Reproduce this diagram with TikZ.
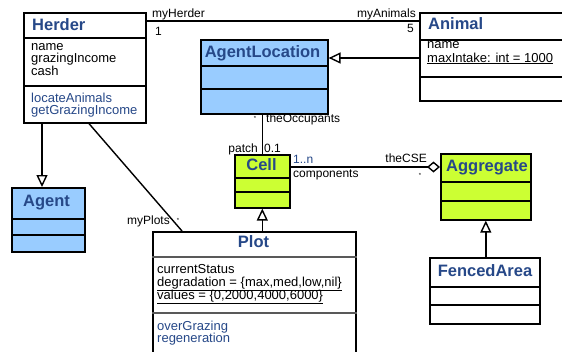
\documentclass[tikz,border=0pt]{standalone}
\usepackage{fontspec}
\setmainfont{Liberation Sans}
\usetikzlibrary{arrows.meta}

\definecolor{umltitle}{RGB}{38,72,136}
\definecolor{umlblue}{RGB}{153,204,255}
\definecolor{umllime}{RGB}{204,255,51}

% horizontal compartment line, #3 pt below the top of class box #2
\newcommand\umlsplit[3][black]{%
  \draw[sep, draw=#1] ([yshift=-#3pt]#2.north west) -- ([yshift=-#3pt]#2.north east);}

\tikzset{
  classbox/.style={draw=black, line width=1.6pt, rectangle, inner sep=0pt, anchor=north west},
  sep/.style={line width=1.6pt},
  ttl/.style={font=\fontsize{16.5}{16.5}\selectfont\bfseries, text=umltitle, inner sep=0pt},
  body/.style={font=\fontsize{13}{13}\selectfont, inner sep=0pt, anchor=base west},
  meth/.style={body, text=umltitle},
  lbl/.style={font=\fontsize{12}{12}\selectfont, inner sep=0pt},
  tick/.style={font=\fontsize{6}{6}\selectfont, inner sep=0pt},
  link/.style={line width=1.4pt},
  isa/.style={link, -{Triangle[open, length=12pt, width=11pt, fill=white]}},
  whole/.style={link, -{Diamond[open, length=13pt, width=11pt, fill=white]}},
}

\begin{document}
\begin{tikzpicture}[x=1pt, y=-1pt]
\useasboundingbox (0,0) rectangle (562,351);
\fill[white] (0,0) rectangle (562,351);
\clip (0,0) rectangle (562,351);

% ---------- classes ----------
\node[classbox, minimum width=122pt, minimum height=110pt] (herder) at (23,12) {};
\umlsplit{herder}{26}
\umlsplit{herder}{74}
\node[ttl, anchor=base west] (herderT) at (32,30) {Herder};
\node[body] (herderA1) at (31,50) {name};
\node[body] (herderA2) at (31,62.5) {grazingIncome};
\node[body] (herderA3) at (31,75) {cash};
\node[meth] (herderM1) at (31,102) {locateAnimals};
\node[meth] (herderM2) at (31,114) {getGrazingIncome};

\node[classbox, minimum width=200pt, minimum height=88pt] (animal) at (419,12) {};
\umlsplit{animal}{28}
\umlsplit{animal}{65}
\node[ttl, anchor=base west] (animalT) at (428,29) {Animal};
\node[body] (animalA1) at (427,48) {name};
\node[body] (animalA2) at (427,62) {\underline{maxIntake: int = 1000}};

\node[classbox, fill=umlblue, minimum width=127pt, minimum height=74pt] (agentloc) at (200,39) {};
\umlsplit{agentloc}{27}
\umlsplit{agentloc}{50}
\node[ttl, anchor=base] (agentlocT) at (262.5,57) {AgentLocation};

\node[classbox, fill=umlblue, minimum width=73pt, minimum height=64pt] (agent) at (11,187) {};
\umlsplit{agent}{32}
\umlsplit{agent}{48}
\node[ttl, anchor=base] (agentT) at (46.5,206) {Agent};

\node[classbox, fill=umllime, minimum width=55pt, minimum height=53pt] (cell) at (234,154) {};
\umlsplit{cell}{24}
\umlsplit{cell}{38}
\node[ttl, anchor=base] (cellT) at (261.5,170) {Cell};

\node[classbox, fill=umllime, minimum width=90pt, minimum height=66pt] (aggregate) at (440,153) {};
\umlsplit{aggregate}{29}
\umlsplit{aggregate}{48}
\node[ttl, anchor=base] (aggregateT) at (487,171) {Aggregate};

\node[classbox, minimum width=110pt, minimum height=66pt] (fenced) at (429,257) {};
\umlsplit{fenced}{30}
\umlsplit{fenced}{48}
\node[ttl, anchor=base] (fencedT) at (485,276) {FencedArea};

\node[classbox, minimum width=203pt, minimum height=140pt] (plot) at (152,231) {};
\umlsplit[black!65]{plot}{26}
\umlsplit[black!65]{plot}{82}
\node[ttl, anchor=base] (plotT) at (253.5,247) {Plot};
\node[body] (plotA1) at (157,273) {currentStatus};
\node[body] (plotA2) at (157,286) {\underline{degradation = \{max,med,low,nil\}}};
\node[body] (plotA3) at (157,299) {\underline{values = \{0,2000,4000,6000\}}};
\node[meth] (plotM1) at (157,330) {overGrazing};
\node[meth] (plotM2) at (157,342) {regeneration};

% ---------- relations ----------
% Herder -- Animal
\draw[link] ([yshift=-9pt]herder.north east) -- ([yshift=-9pt]animal.north west);
\node[lbl, anchor=base west] (lblHerder) at (152,17) {myHerder};
\node[lbl, anchor=base west] (lblOne) at (155,35) {1};
\node[lbl, anchor=base east] (lblAnimals) at (416,17) {myAnimals};
\node[lbl, anchor=base east] (lblFive) at (414,32) {5};

% Animal is an AgentLocation
\draw[isa] ([yshift=-46pt]animal.north west) -- ([yshift=-19pt]agentloc.north east);

% Herder is an Agent
\draw[isa] ([xshift=19pt]herder.south west) -- ([xshift=31pt]agent.north west);

% Herder -- Plot
\draw[link] ([xshift=66pt]herder.south west) -- ([xshift=30pt]plot.north west);
\node[lbl, anchor=base east] (lblPlots) at (170,224) {myPlots};
\node[tick] (tickPlots) at (178,220) {*};

% AgentLocation -- Cell
\draw[link] (agentloc.south -| cell.north) -- (cell.north);
\node[lbl, anchor=base west] (lblOcc) at (266,122) {theOccupants};
\node[tick] (tickOcc) at (255,118) {*};
\node[lbl, anchor=base east] (lblPatch) at (258,152) {patch};
\node[lbl, anchor=base west] (lblPatchM) at (264,152) {0.1};

% Cell is part of an Aggregate
\draw[whole] ([yshift=-13pt]cell.north east) -- ([yshift=-14pt]aggregate.north west);
\node[lbl, anchor=base west, text=umltitle] (lblOneN) at (293,163) {1..n};
\node[lbl, anchor=base west] (lblComp) at (293,177) {components};
\node[lbl, anchor=base east] (lblCSE) at (427,162) {theCSE};
\node[tick] (tickCSE) at (420,175) {*};

% Plot is a Cell
\draw[isa] (cell.south |- plot.north) -- (cell.south);

% FencedArea is an Aggregate
\draw[isa] (aggregate.south |- fenced.north) -- (aggregate.south);
\end{tikzpicture}
\end{document}
